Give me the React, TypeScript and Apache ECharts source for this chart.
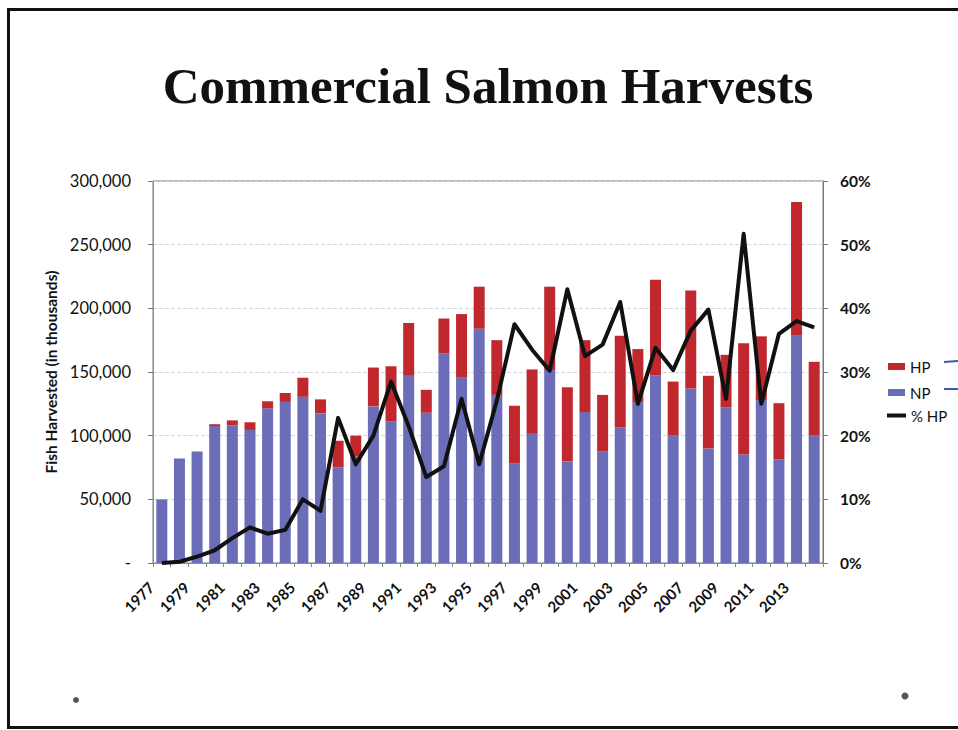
import React, { useEffect, useRef } from "react";
import * as echarts from "echarts";

const years = [
  "1977", "1978", "1979", "1980", "1981", "1982", "1983", "1984", "1985", "1986",
  "1987", "1988", "1989", "1990", "1991", "1992", "1993", "1994", "1995", "1996",
  "1997", "1998", "1999", "2000", "2001", "2002", "2003", "2004", "2005", "2006",
  "2007", "2008", "2009", "2010", "2011", "2012", "2013", "2014",
];

// Natural production (thousands of fish)
const npValues = [
  50000, 82000, 87500, 107500, 108000, 104500, 121500, 126500, 130500, 117500,
  75000, 83500, 123000, 111000, 147000, 118000, 164500, 145500, 184000, 132000,
  78000, 102000, 151500, 80000, 118500, 87500, 106500, 126500, 147500, 100000,
  137000, 90000, 122000, 85500, 128000, 81500, 178500, 100000,
];

// Hatchery production (thousands of fish)
const hpValues = [
  0, 0, 0, 1500, 4000, 6000, 5500, 7000, 15000, 11000,
  21000, 16500, 30500, 43500, 41500, 18000, 27500, 50000, 33000, 43000,
  45500, 50000, 65500, 58000, 56500, 44500, 72000, 41500, 75000, 42500,
  77000, 57000, 41500, 87000, 50000, 44000, 105000, 58000,
];

// Percent of harvest from hatcheries
const pctHP = [
  0, 0.2, 1, 2, 3.9, 5.6, 4.6, 5.2, 10, 8.2,
  22.8, 15.5, 20, 28.5, 21.5, 13.5, 15.2, 25.8, 15.5, 25.5,
  37.5, 33.5, 30.2, 43, 32.5, 34.3, 41, 25, 33.8, 30.3,
  36.5, 39.8, 25.8, 51.7, 25, 36, 38, 37,
];

const titleText = "Commercial Salmon Harvests";
const yAxisName = "Fish Harvested (in thousands)";
const legendNames = ["HP", "NP", "% HP"];

export default function App() {
  const ref = useRef<HTMLDivElement>(null);

  useEffect(() => {
    if (!ref.current) return;
    const chart = echarts.init(ref.current, undefined, { renderer: "svg" });
    const labelFont = "Lato, 'Open Sans', sans-serif";
    chart.setOption({
      animation: false,
      backgroundColor: "#ffffff",
      grid: {
        left: 153,
        right: 135,
        top: 181,
        bottom: 167,
        show: true,
        borderColor: "#777",
        borderWidth: 1,
        backgroundColor: "transparent",
      },
      legend: [
        {
          data: [legendNames[0], legendNames[1]],
          orient: "vertical",
          left: 883,
          top: 354,
          itemWidth: 17,
          itemHeight: 7,
          itemGap: 11,
          icon: "rect",
          textStyle: { fontFamily: labelFont, fontSize: 15, color: "#111" },
        },
        {
          data: [legendNames[2]],
          orient: "vertical",
          left: 882,
          top: 403,
          itemWidth: 19,
          itemHeight: 4,
          icon: "rect",
          textStyle: { fontFamily: labelFont, fontSize: 15, color: "#111" },
        },
      ],
      xAxis: {
        type: "category",
        data: years,
        axisLine: { show: true, lineStyle: { color: "#8a8aaa" } },
        axisTick: { show: true, interval: 0, length: 4, lineStyle: { color: "#888" } },
        axisLabel: {
          interval: 1,
          rotate: 45,
          margin: 11,
          padding: [0, 15, 0, 0],
          fontFamily: labelFont,
          fontWeight: "bold",
          fontSize: 15,
          color: "#111",
        },
      },
      yAxis: [
        {
          type: "value",
          min: 0,
          max: 300000,
          interval: 50000,
          position: "left",
          name: yAxisName,
          nameLocation: "middle",
          nameGap: 91,
          nameTextStyle: { fontFamily: labelFont, fontWeight: "bold", fontSize: 15.5, color: "#111" },
          axisLine: { show: true, lineStyle: { color: "#888", type: "dotted" } },
          axisTick: { show: true, length: 5, lineStyle: { color: "#777" } },
          axisLabel: {
            margin: 22,
            fontFamily: labelFont,
            fontSize: 16.5,
            color: "#111",
            formatter: (v: number) => (v === 0 ? "-" : v.toLocaleString("en-US")),
          },
          splitLine: { show: true, lineStyle: { color: "#d2d4e6", type: "dashed" } },
        },
        {
          type: "value",
          min: 0,
          max: 60,
          interval: 10,
          position: "right",
          axisLine: { show: true, lineStyle: { color: "#777" } },
          axisTick: { show: true, length: 5, lineStyle: { color: "#777" } },
          axisLabel: {
            margin: 17,
            fontFamily: labelFont,
            fontSize: 15.5,
            fontWeight: "bold",
            color: "#111",
            formatter: "{value}%",
          },
          splitLine: { show: false },
        },
      ],
      series: [
        {
          name: "NP",
          type: "bar",
          stack: "harvest",
          barWidth: 11,
          data: npValues,
          itemStyle: { color: "#6b6db8" },
        },
        {
          name: "HP",
          type: "bar",
          stack: "harvest",
          barWidth: 11,
          data: hpValues,
          itemStyle: { color: "#c0282e" },
        },
        {
          name: "% HP",
          type: "line",
          yAxisIndex: 1,
          data: pctHP,
          symbol: "none",
          z: 5,
          itemStyle: { color: "#111" },
          lineStyle: { color: "#111", width: 4, join: "round" },
        },
      ],
      graphic: [
        {
          type: "rect",
          shape: { x: 8.5, y: 9.5, width: 960, height: 718 },
          style: { fill: "none", stroke: "#111", lineWidth: 3 },
          silent: true,
        },
        {
          type: "text",
          x: 488,
          y: 86,
          style: {
            text: titleText,
            textAlign: "center",
            textVerticalAlign: "middle",
            fontFamily: "'Liberation Serif', 'DejaVu Serif', serif",
            fontWeight: "bold",
            fontSize: 51,
            fill: "#111",
          },
        },
        { type: "circle", shape: { cx: 76, cy: 700, r: 3 }, style: { fill: "#555" } },
        { type: "circle", shape: { cx: 905, cy: 696, r: 3.5 }, style: { fill: "#555" } },
        {
          type: "line",
          shape: { x1: 944, y1: 362, x2: 958, y2: 361 },
          style: { stroke: "#3a5aa8", lineWidth: 2 },
        },
        {
          type: "line",
          shape: { x1: 944, y1: 389, x2: 958, y2: 389 },
          style: { stroke: "#3a5aa8", lineWidth: 2 },
        },
      ],
    });
    return () => chart.dispose();
  }, []);

  return (
    <div
      ref={ref}
      style={{ position: "fixed", left: 0, top: 0, width: 958, height: 730, background: "#fff" }}
    />
  );
}
